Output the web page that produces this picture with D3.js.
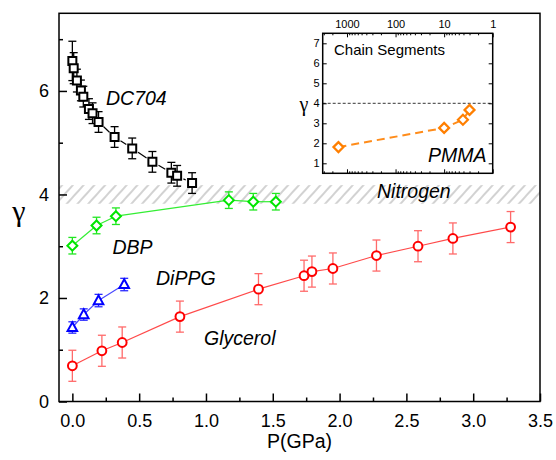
<!DOCTYPE html>
<html>
<head>
<meta charset="utf-8">
<script src="https://cdn.jsdelivr.net/npm/d3@7"></script>
<style>
  body { margin: 0; background: #fff; }
  svg text { font-family: Arial, "Liberation Sans", sans-serif; }
</style>
</head>
<body>
<div id="chart"></div>
<script>
// values
const dc704P     = [0.0, 0.01, 0.034, 0.064, 0.082, 0.124, 0.151, 0.196, 0.316, 0.448, 0.599, 0.741, 0.784, 0.896];
const dc704Gamma = [6.58, 6.44, 6.20, 6.01, 5.89, 5.65, 5.57, 5.40, 5.11, 4.89, 4.63, 4.42, 4.36, 4.22];
const dc704Err   = [0.38, 0.30, 0.22, 0.2, 0.2, 0.2, 0.2, 0.2, 0.2, 0.2, 0.2, 0.2, 0.2, 0.2];

const dbpP     = [0.0, 0.181, 0.326, 1.171, 1.354, 1.523];
const dbpGamma = [3.01, 3.40, 3.58, 3.89, 3.86, 3.86];
const dbpErr   = [0.16, 0.16, 0.16, 0.16, 0.16, 0.16];

const dippgP     = [0.0, 0.085, 0.196, 0.388];
const dippgGamma = [1.43, 1.68, 1.95, 2.26];
const dippgErr   = [0.11, 0.11, 0.12, 0.12];

const glyP     = [0.0, 0.221, 0.373, 0.805, 1.393, 1.734, 1.793, 1.95, 2.276, 2.587, 2.848, 3.28];
const glyGamma = [0.69, 0.98, 1.14, 1.64, 2.17, 2.43, 2.51, 2.57, 2.82, 3.00, 3.15, 3.37];
const glyErr   = [0.3, 0.3, 0.3, 0.3, 0.3, 0.3, 0.3, 0.3, 0.3, 0.3, 0.3, 0.3];

const nitrogenBand = [3.82, 4.18];

const pmmaSegments = [1500, 10, 4.1, 3.0];
const pmmaGamma    = [1.81, 2.77, 3.18, 3.67];

const xMajorTicks = [0, 0.5, 1.0, 1.5, 2.0, 2.5, 3.0, 3.5];
const xMinorTicks = [0.25, 0.75, 1.25, 1.75, 2.25, 2.75, 3.25];
const yMajorTicks = [0, 2, 4, 6];
const yMinorTicks = [1, 3, 5, 7];
const insetXTicks = [1000, 100, 10, 1];
const insetYTicks = [1, 2, 3, 4, 5, 6, 7];

const W = 556, H = 460;
const frame = { left: 59, right: 540, top: 13.3, bottom: 401.5 };
const inset = { left: 322.7, right: 492.7, top: 33.3, bottom: 173.3 };

const svg = d3.select('#chart').append('svg')
    .attr('width', W)
    .attr('height', H);

const x = d3.scaleLinear().domain([-0.1, 3.5]).range([frame.left, frame.right]);
const y = d3.scaleLinear().domain([0, 7.5]).range([frame.bottom, frame.top]);

// hatch pattern for the nitrogen band
const defs = svg.append('defs');
defs.append('pattern')
    .attr('id', 'hatch')
    .attr('patternUnits', 'userSpaceOnUse')
    .attr('width', 8).attr('height', 8)
    .attr('patternTransform', 'rotate(42)')
  .append('line')
    .attr('x1', 2).attr('y1', 0).attr('x2', 2).attr('y2', 8)
    .attr('stroke', '#cdcdcd')
    .attr('stroke-width', 1.8);

svg.append('rect')
    .attr('x', frame.left)
    .attr('width', frame.right - frame.left)
    .attr('y', y(nitrogenBand[1]))
    .attr('height', y(nitrogenBand[0]) - y(nitrogenBand[1]))
    .attr('fill', 'url(#hatch)');

// axes, ticks pointing inward
function styleAxis(g) {
    g.select('.domain').remove();
    g.selectAll('line').attr('stroke', '#000').attr('stroke-width', 1.5);
    g.selectAll('text').attr('font-size', 18).attr('fill', '#000')
        .attr('font-family', 'Arial, "Liberation Sans", sans-serif');
}

svg.append('g')
    .attr('transform', `translate(0,${frame.bottom})`)
    .call(d3.axisBottom(x).tickValues(xMajorTicks).tickSize(-8).tickPadding(13).tickFormat(d3.format('.1f')))
    .call(styleAxis);
svg.append('g')
    .attr('transform', `translate(0,${frame.bottom})`)
    .call(d3.axisBottom(x).tickValues(xMinorTicks).tickSize(-4).tickFormat(''))
    .call(styleAxis);
svg.append('g')
    .attr('transform', `translate(${frame.left},0)`)
    .call(d3.axisLeft(y).tickValues(yMajorTicks).tickSize(-8).tickPadding(10).tickFormat(d3.format('d')))
    .call(styleAxis);
svg.append('g')
    .attr('transform', `translate(${frame.left},0)`)
    .call(d3.axisLeft(y).tickValues(yMinorTicks).tickSize(-4).tickFormat(''))
    .call(styleAxis);

svg.append('rect')
    .attr('x', frame.left).attr('y', frame.top)
    .attr('width', frame.right - frame.left)
    .attr('height', frame.bottom - frame.top)
    .attr('fill', 'none')
    .attr('stroke', '#000')
    .attr('stroke-width', 1.5);

svg.append('text')
    .attr('x', (frame.left + frame.right) / 2)
    .attr('y', 448)
    .attr('text-anchor', 'middle')
    .attr('font-size', 19.5)
    .text('P(GPa)');

svg.append('text')
    .attr('x', 19)
    .attr('y', 221)
    .attr('text-anchor', 'middle')
    .attr('font-size', 30)
    .style('font-family', '"Liberation Serif", "DejaVu Serif", serif')
    .text('γ');

// one series: connecting line, error bars, markers
function drawSeries(ps, gs, errs, opt) {
    const pts = ps.map((p, i) => ({ px: x(p), py: y(gs[i]), lo: y(gs[i] - errs[i]), hi: y(gs[i] + errs[i]) }));
    const g = svg.append('g');

    for (let i = 0; i < pts.length - 1; i++) {
        const a = pts[i], b = pts[i + 1];
        const dx = b.px - a.px, dy = b.py - a.py;
        const len = Math.hypot(dx, dy);
        const gap = opt.gap || 0;
        if (len <= 2 * gap) continue;
        const ux = dx / len, uy = dy / len;
        g.append('line')
            .attr('x1', a.px + ux * gap).attr('y1', a.py + uy * gap)
            .attr('x2', b.px - ux * gap).attr('y2', b.py - uy * gap)
            .attr('stroke', opt.line)
            .attr('stroke-width', 1.2);
    }

    const eb = g.selectAll('.err').data(pts).enter().append('g')
        .attr('stroke', opt.err)
        .attr('stroke-width', 1.3);
    eb.append('line').attr('x1', d => d.px).attr('x2', d => d.px).attr('y1', d => d.lo).attr('y2', d => d.hi);
    eb.append('line').attr('x1', d => d.px - 4).attr('x2', d => d.px + 4).attr('y1', d => d.lo).attr('y2', d => d.lo);
    eb.append('line').attr('x1', d => d.px - 4).attr('x2', d => d.px + 4).attr('y1', d => d.hi).attr('y2', d => d.hi);

    g.selectAll('.mk').data(pts).enter().append('path')
        .attr('transform', d => `translate(${d.px},${d.py})`)
        .attr('d', opt.shape)
        .attr('fill', '#fff')
        .attr('stroke', opt.color)
        .attr('stroke-width', 2);
}

const squarePath = 'M-4,-4H4V4H-4Z';
const diamondPath = 'M0,-5L5,0L0,5L-5,0Z';
const trianglePath = 'M0,-5.2L4.8,3.6H-4.8Z';
const circlePath = 'M4.4,0A4.4,4.4 0 1,1 -4.4,0A4.4,4.4 0 1,1 4.4,0Z';

drawSeries(glyP, glyGamma, glyErr, { color: '#ff0000', line: '#ff4a4a', err: '#ff6a6a', shape: circlePath });
drawSeries(dippgP, dippgGamma, dippgErr, { color: '#0000ff', line: '#4a4aff', err: '#2a2aff', shape: trianglePath });
drawSeries(dbpP, dbpGamma, dbpErr, { color: '#00e600', line: '#33ee33', err: '#22e622', shape: diamondPath });
drawSeries(dc704P, dc704Gamma, dc704Err, { color: '#000', line: '#000', err: '#000', shape: squarePath, gap: 7 });

// series labels
const labels = [
    { text: 'DC704', x: 106, y: 105 },
    { text: 'Nitrogen', x: 377, y: 198 },
    { text: 'DBP', x: 112.5, y: 254 },
    { text: 'DiPPG', x: 156, y: 285 },
    { text: 'Glycerol', x: 204, y: 345 }
];
svg.selectAll('.lbl').data(labels).enter().append('text')
    .attr('x', d => d.x)
    .attr('y', d => d.y)
    .attr('font-size', 19.5)
    .attr('font-style', 'italic')
    .text(d => d.text);

// inset: PMMA vs number of chain segments
const xi = d3.scaleLog().domain([Math.pow(10, 3.5), 1]).range([inset.left, inset.right]);
const yi = d3.scaleLinear().domain([0.5, 7.5]).range([inset.bottom, inset.top]);

svg.append('rect')
    .attr('x', inset.left).attr('y', inset.top)
    .attr('width', inset.right - inset.left)
    .attr('height', inset.bottom - inset.top)
    .attr('fill', '#fff');

function styleInsetAxis(g) {
    g.select('.domain').remove();
    g.selectAll('line').attr('stroke', '#000').attr('stroke-width', 1);
    g.selectAll('text').attr('font-size', 11).attr('fill', '#000')
        .attr('font-family', 'Arial, "Liberation Sans", sans-serif');
}

const insetMinor = [];
[1, 10, 100, 1000].forEach(dec => {
    for (let k = 2; k <= 9; k++) {
        if (dec * k < Math.pow(10, 3.5)) insetMinor.push(dec * k);
    }
});

svg.append('g').attr('transform', `translate(0,${inset.top})`)
    .call(d3.axisTop(xi).tickValues(insetXTicks).tickSize(-4).tickPadding(5).tickFormat(d3.format('d')))
    .call(styleInsetAxis);
svg.append('g').attr('transform', `translate(0,${inset.top})`)
    .call(d3.axisTop(xi).tickValues(insetMinor).tickSize(-2).tickFormat(''))
    .call(styleInsetAxis);
svg.append('g').attr('transform', `translate(0,${inset.bottom})`)
    .call(d3.axisBottom(xi).tickValues(insetXTicks).tickSize(-4).tickFormat(''))
    .call(styleInsetAxis);
svg.append('g').attr('transform', `translate(0,${inset.bottom})`)
    .call(d3.axisBottom(xi).tickValues(insetMinor).tickSize(-2).tickFormat(''))
    .call(styleInsetAxis);
svg.append('g').attr('transform', `translate(${inset.left},0)`)
    .call(d3.axisLeft(yi).tickValues(insetYTicks).tickSize(-4).tickPadding(3).tickFormat(d3.format('d')))
    .call(styleInsetAxis);
svg.append('g').attr('transform', `translate(${inset.right},0)`)
    .call(d3.axisRight(yi).tickValues(insetYTicks).tickSize(-4).tickFormat(''))
    .call(styleInsetAxis);

svg.append('line')
    .attr('x1', inset.left).attr('x2', inset.right)
    .attr('y1', yi(4)).attr('y2', yi(4))
    .attr('stroke', '#000')
    .attr('stroke-width', 0.8)
    .attr('stroke-dasharray', '3,2');

svg.append('rect')
    .attr('x', inset.left).attr('y', inset.top)
    .attr('width', inset.right - inset.left)
    .attr('height', inset.bottom - inset.top)
    .attr('fill', 'none')
    .attr('stroke', '#000')
    .attr('stroke-width', 1.5);

const pmmaLine = d3.line()
    .x((d, i) => xi(pmmaSegments[i]))
    .y(d => yi(d));

svg.append('path')
    .attr('d', pmmaLine(pmmaGamma))
    .attr('fill', 'none')
    .attr('stroke', '#ff8c1a')
    .attr('stroke-width', 2)
    .attr('stroke-dasharray', '8,5');

svg.selectAll('.pm').data(pmmaGamma).enter().append('path')
    .attr('transform', (d, i) => `translate(${xi(pmmaSegments[i])},${yi(d)})`)
    .attr('d', diamondPath)
    .attr('fill', '#fff')
    .attr('stroke', '#ff7f00')
    .attr('stroke-width', 2.2);

svg.append('text')
    .attr('x', 334).attr('y', 55)
    .attr('font-size', 15)
    .text('Chain Segments');

svg.append('text')
    .attr('x', 428).attr('y', 162)
    .attr('font-size', 19.5)
    .attr('font-style', 'italic')
    .text('PMMA');

svg.append('text')
    .attr('x', 304).attr('y', 111)
    .attr('text-anchor', 'middle')
    .attr('font-size', 20)
    .style('font-family', '"Liberation Serif", "DejaVu Serif", serif')
    .text('γ');
</script>
</body>
</html>
